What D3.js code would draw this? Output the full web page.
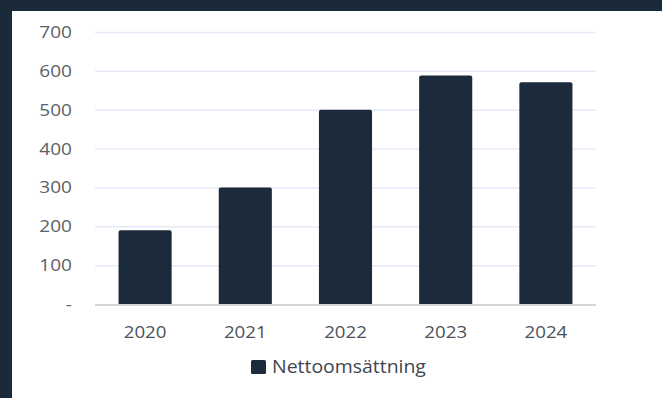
<!DOCTYPE html>
<html>
<head>
<meta charset="utf-8">
<script src="https://cdn.jsdelivr.net/npm/d3@7"></script>
<style>
  body { margin: 0; background: #1b2a39; }
  #chart-area { position: absolute; left: 12px; top: 11px; width: 650px; height: 387px; background: #fff; }
  text { font-family: "Open Sans", sans-serif; }
</style>
</head>
<body>
<div id="chart-area"></div>
<script>
// data
var years = ["2020", "2021", "2022", "2023", "2024"];
var nettoomsattning = [190, 300, 500, 588, 571];
var yTicks = [0, 100, 200, 300, 400, 500, 600, 700];
var seriesName = "Nettoomsättning";

var W = 650, H = 387;
var plotLeft = 83, plotRight = 584, plotTop = 21, plotBottom = 293;

var svg = d3.select('#chart-area').append('svg')
    .attr('width', W)
    .attr('height', H);

var x = d3.scaleBand()
    .domain(years)
    .range([plotLeft, plotRight])
    .paddingInner(0.47)
    .paddingOuter(0.235);

var y = d3.scaleLinear()
    .domain([0, 700])
    .range([plotBottom, plotTop]);

// grid lines
svg.append('g')
    .selectAll('line')
    .data(yTicks.filter(function(d){ return d > 0; }))
    .enter().append('line')
        .attr('x1', plotLeft)
        .attr('x2', plotRight)
        .attr('y1', function(d){ return y(d) + 0.5; })
        .attr('y2', function(d){ return y(d) + 0.5; })
        .attr('stroke', '#e4eaf6')
        .attr('stroke-width', 1.5);

// y labels (text in the picture looks a bit wide, so stretch it)
var axisY = d3.axisLeft(y)
    .tickValues(yTicks)
    .tickSize(0)
    .tickPadding(0)
    .tickFormat(function(d){ return d === 0 ? "-" : d; });
var gy = svg.append('g')
    .attr('transform', 'translate(60,0)')
    .call(axisY);
gy.select('.domain').remove();
gy.selectAll('text')
    .attr('font-size', 17)
    .attr('fill', '#5a6068')
    .attr('transform', 'scale(1.12,1)')
    .attr('font-family', '"Open Sans", sans-serif');

// bars
svg.append('g')
    .selectAll('path')
    .data(years)
    .enter().append('path')
        .attr('fill', '#1b2b3b')
        .attr('d', function(d, i){
            var x0 = x(d), w = x.bandwidth(), y0 = y(nettoomsattning[i]), r = 2;
            return 'M' + x0 + ',' + y(0) +
                'V' + (y0 + r) + 'Q' + x0 + ',' + y0 + ' ' + (x0 + r) + ',' + y0 +
                'H' + (x0 + w - r) + 'Q' + (x0 + w) + ',' + y0 + ' ' + (x0 + w) + ',' + (y0 + r) +
                'V' + y(0) + 'Z';
        });

// baseline
svg.append('line')
    .attr('x1', plotLeft).attr('x2', plotRight)
    .attr('y1', y(0) + 1).attr('y2', y(0) + 1)
    .attr('stroke', '#d6d6d6')
    .attr('stroke-width', 2);

// x labels
var axisX = d3.axisBottom(x).tickSize(0).tickPadding(0);
var gx = svg.append('g')
    .attr('transform', 'translate(0,' + (plotBottom + 34) + ')')
    .call(axisX);
gx.select('.domain').remove();
gx.selectAll('text')
    .attr('dy', 0)
    .attr('font-size', 17)
    .attr('fill', '#4a525b')
    .attr('transform', 'scale(1.1,1)')
    .attr('font-family', '"Open Sans", sans-serif');

// legend
var leg = svg.append('g').attr('transform', 'translate(239,349)');
leg.append('rect')
    .attr('width', 15).attr('height', 14)
    .attr('rx', 1.5)
    .attr('fill', '#1b2b3b');
leg.append('g')
    .attr('transform', 'translate(21,0) scale(1.08,1)')
  .append('text')
    .attr('y', 13)
    .attr('font-size', 18)
    .attr('fill', '#3e464f')
    .text(seriesName);
</script>
</body>
</html>
